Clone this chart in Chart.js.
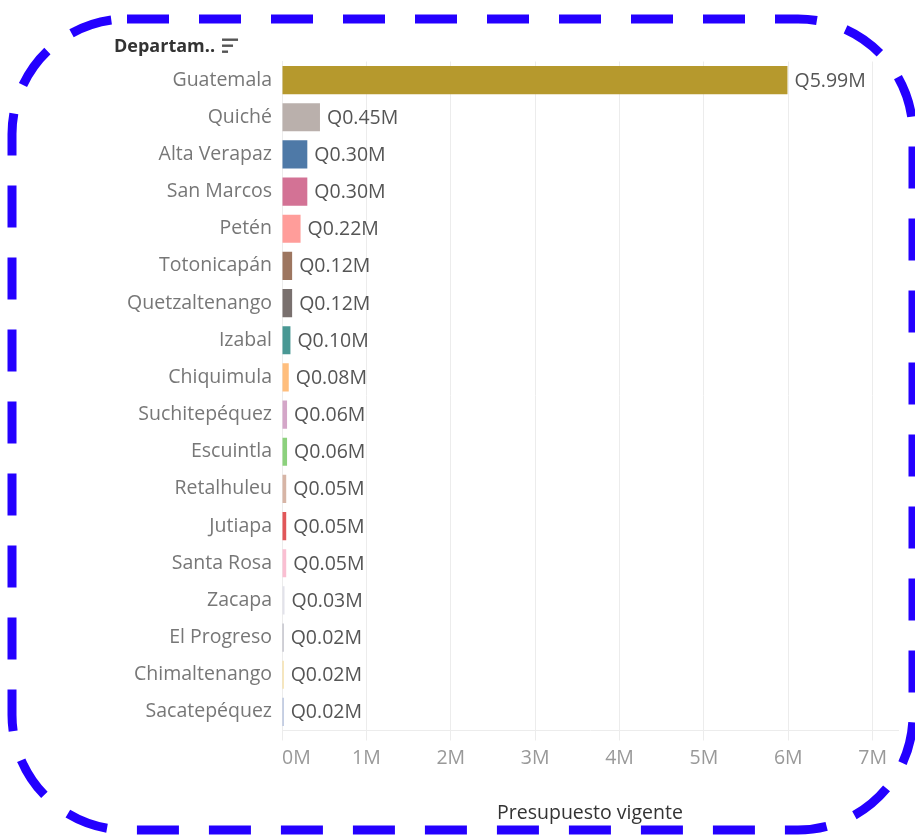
<!DOCTYPE html>
<html>
<head>
<meta charset="utf-8">
<script src="https://cdn.jsdelivr.net/npm/chart.js@4.4.1/dist/chart.umd.min.js"></script>
<style>
  html, body { margin: 0; padding: 0; background: #fff; }
  #wrap { position: relative; width: 915px; height: 835px; }
  #frame { position: absolute; left: 0; top: 0; pointer-events: none; }
</style>
</head>
<body>
<div id="wrap">
  <canvas id="myChart" width="915" height="835"></canvas>
  <svg id="frame" width="915" height="835">
    <rect x="12" y="19" width="901" height="811" rx="115" ry="115"
          fill="none" stroke="#2400ff" stroke-width="9" stroke-dasharray="42 30"/>
  </svg>
</div>
<script>
// departamentos, ordenados por presupuesto
const departamentos = ['Guatemala', 'Quiché', 'Alta Verapaz', 'San Marcos', 'Petén', 'Totonicapán',
  'Quetzaltenango', 'Izabal', 'Chiquimula', 'Suchitepéquez', 'Escuintla', 'Retalhuleu',
  'Jutiapa', 'Santa Rosa', 'Zacapa', 'El Progreso', 'Chimaltenango', 'Sacatepéquez'];

// presupuesto vigente en millones de Q
const presupuesto = [5.99, 0.45, 0.30, 0.30, 0.22, 0.12, 0.12, 0.10, 0.08, 0.06, 0.06, 0.05,
  0.05, 0.05, 0.03, 0.02, 0.02, 0.02];

const colores = ['#b6992d', '#bab0ac', '#4e79a7', '#d37295', '#ff9d9a', '#9d7660', '#79706e',
  '#499894', '#ffbe7d', '#d4a6c8', '#8cd17d', '#d7b5a6', '#e15759', '#fabfd2', '#e2e2ea',
  '#b8b8c2', '#f5dc9c', '#a9b8d8'];

const ejeTicks = [0, 1, 2, 3, 4, 5, 6, 7];
const ejeMax = 7.3;

const FONT = '"Open Sans", "Noto Sans", sans-serif';

// etiquetas Q0.00M al final de cada barra
const valueLabels = {
  id: 'valueLabels',
  afterDatasetsDraw(chart) {
    const ctx = chart.ctx;
    const meta = chart.getDatasetMeta(0);
    ctx.save();
    ctx.font = '19.5px ' + FONT;
    ctx.fillStyle = '#555';
    ctx.textBaseline = 'middle';
    ctx.textAlign = 'left';
    meta.data.forEach((bar, i) => {
      ctx.fillText('Q' + presupuesto[i].toFixed(2) + 'M', bar.x + 7, bar.y + 1);
    });
    ctx.restore();
  }
};

// encabezado "Departam.." con icono de orden
const header = {
  id: 'header',
  afterDraw(chart) {
    const ctx = chart.ctx;
    ctx.save();
    ctx.font = 'bold 18px ' + FONT;
    ctx.fillStyle = '#333';
    ctx.textBaseline = 'middle';
    ctx.textAlign = 'left';
    ctx.fillText('Departam..', 114, 47);
    const w = ctx.measureText('Departam..').width;
    const x0 = 114 + w + 7;
    ctx.fillStyle = '#555';
    ctx.fillRect(x0, 38.5, 16, 2.4);
    ctx.fillRect(x0, 44.5, 11, 2.4);
    ctx.fillRect(x0, 50.5, 6, 2.4);
    ctx.restore();
  }
};

const gridColor = c => (c.tick && c.tick.value === ejeMax) ? 'rgba(0,0,0,0)' : '#ececec';

new Chart(document.getElementById('myChart'), {
  type: 'bar',
  data: {
    labels: departamentos,
    datasets: [{
      data: presupuesto,
      backgroundColor: colores,
      borderWidth: 0,
      barPercentage: 0.76,
      categoryPercentage: 1
    }]
  },
  options: {
    indexAxis: 'y',
    responsive: false,
    animation: false,
    layout: { padding: { top: 61.5, right: 17, left: 0, bottom: 0 } },
    plugins: {
      legend: { display: false },
      tooltip: { enabled: false }
    },
    scales: {
      x: {
        min: 0,
        max: ejeMax,
        afterBuildTicks(scale) {
          scale.ticks = ejeTicks.concat([ejeMax]).map(v => ({ value: v }));
        },
        afterFit(scale) { scale.height = 104.5; },
        grid: { color: gridColor, lineWidth: 1, tickLength: 10, tickColor: gridColor },
        border: { color: '#ececec' },
        ticks: {
          padding: 6,
          align: 'inner',
          color: '#999',
          font: { family: FONT, size: 19.5 },
          callback: v => v === ejeMax ? '' : v + 'M'
        },
        title: {
          display: true,
          text: 'Presupuesto vigente',
          color: '#333',
          font: { family: FONT, size: 19.5 },
          padding: { top: 4, bottom: 10 }
        }
      },
      y: {
        afterFit(scale) { scale.width = 282; },
        grid: { display: false, drawTicks: false },
        border: { color: '#ececec' },
        ticks: {
          padding: 10,
          color: '#777',
          font: { family: FONT, size: 19.5 }
        }
      }
    }
  },
  plugins: [valueLabels, header]
});
</script>
</body>
</html>
